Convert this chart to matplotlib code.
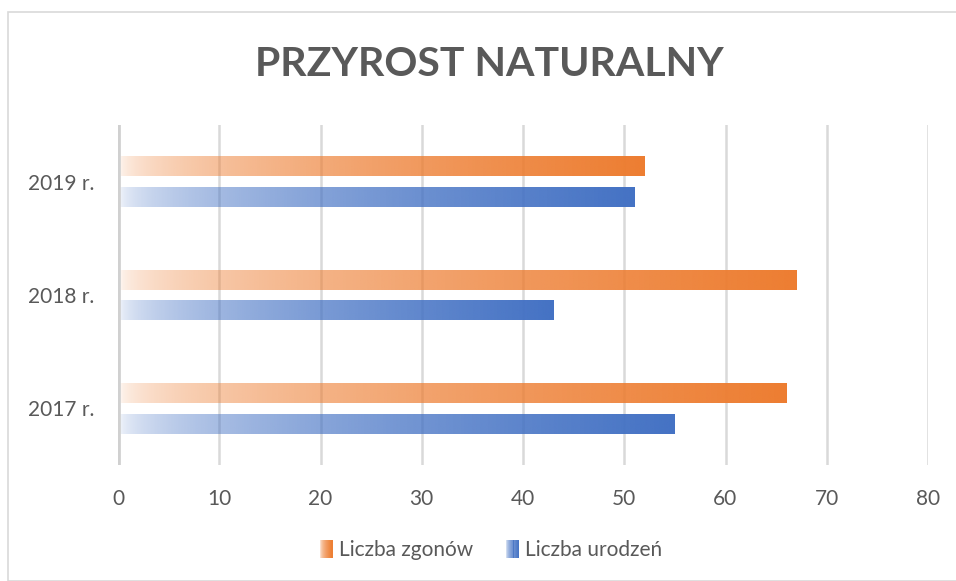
import numpy as np
import matplotlib
matplotlib.use("Agg")
import matplotlib.pyplot as plt
from matplotlib.patches import Rectangle
from matplotlib.colors import to_rgb
from matplotlib.legend_handler import HandlerBase

categories = ["2017 r.", "2018 r.", "2019 r."]
zgony = [66, 67, 52]
urodzenia = [55, 43, 51]
series_names = ["Liczba zgonów", "Liczba urodzeń"]
colors = ["#ED7D31", "#4472C4"]
xticks = [0, 10, 20, 30, 40, 50, 60, 70, 80]
title = "PRZYROST NATURALNY"

plt.rcParams['font.family'] = ['Lato', 'DejaVu Sans']
TXT = "#595959"
GRID = "#D9D9D9"

fig = plt.figure(figsize=(9.56, 5.81), dpi=100)
ax = fig.add_axes([118/956, 1-465/581, (928-118)/956, (465-125)/581])

def grad_img(color, n=256):
    r, g, b = to_rgb(color)
    t = np.linspace(0, 1, n)
    a = 0.02 + 0.98 * t ** 0.45
    img = np.zeros((1, n, 4))
    img[0, :, 0] = r
    img[0, :, 1] = g
    img[0, :, 2] = b
    img[0, :, 3] = a
    return img

y = np.arange(len(categories))
h = 0.176
gap = 0.097
offsets = [(h + gap) / 2, -(h + gap) / 2]
for vals, col, off in zip([zgony, urodzenia], colors, offsets):
    bars = ax.barh(y + off, vals, height=h, color='none', edgecolor='none', zorder=2)
    for bar in bars:
        x0, y0 = bar.get_x(), bar.get_y()
        w, hh = bar.get_width(), bar.get_height()
        im = ax.imshow(grad_img(col), extent=(x0, x0 + w, y0, y0 + hh),
                       aspect='auto', interpolation='bilinear', zorder=3)
        im.set_clip_path(bar)

ax.set_xlim(0, 80)
ax.set_ylim(-0.5, 2.5)
ax.set_xticks(xticks)
ax.set_xticklabels([str(v) for v in xticks])
ax.set_yticks(y)
ax.set_yticklabels(categories)
ax.tick_params(axis='both', length=0, labelsize=15, colors=TXT)
ax.tick_params(axis='x', pad=17)
ax.tick_params(axis='y', pad=17)
for s in ax.spines.values():
    s.set_visible(False)
ax.grid(axis='x', color=GRID, linewidth=1.8, zorder=1)
ax.set_axisbelow(True)
ax.axvline(0, color="#D0D0D0", linewidth=3.4, zorder=4)

fig.text(489/956, 1-65/581, title, ha='center', va='center', fontsize=29.5,
         fontweight='bold', color=TXT)

class GradHandler(HandlerBase):
    def __init__(self, color):
        super().__init__()
        self.color = color
    def create_artists(self, legend, orig_handle, xdescent, ydescent, width, height, fontsize, trans):
        arts = []
        n = 12
        r, g, b = to_rgb(self.color)
        w = width / n
        for i in range(n):
            t = (i + 0.5) / n
            a = 0.02 + 0.98 * t ** 0.45
            arts.append(Rectangle((-xdescent + i * w, -ydescent), w * 1.05, height,
                                  facecolor=(r, g, b, a), edgecolor='none', transform=trans))
        return arts

h1 = Rectangle((0, 0), 1, 1)
h2 = Rectangle((0, 0), 1, 1)
fig.legend([h1, h2], series_names, loc='center', bbox_to_anchor=(491/956, 1-550/581),
           ncol=2, frameon=False, fontsize=15, labelcolor=TXT,
           handler_map={h1: GradHandler(colors[0]), h2: GradHandler(colors[1])},
           handlelength=0.6, handleheight=0.95, handletextpad=0.3, columnspacing=1.6)

fig.add_artist(Rectangle((8/956, 0), 1.0, 1-12/581, transform=fig.transFigure,
                         facecolor='none', edgecolor=GRID, linewidth=1.2))

fig.savefig("out.png", dpi=100)
